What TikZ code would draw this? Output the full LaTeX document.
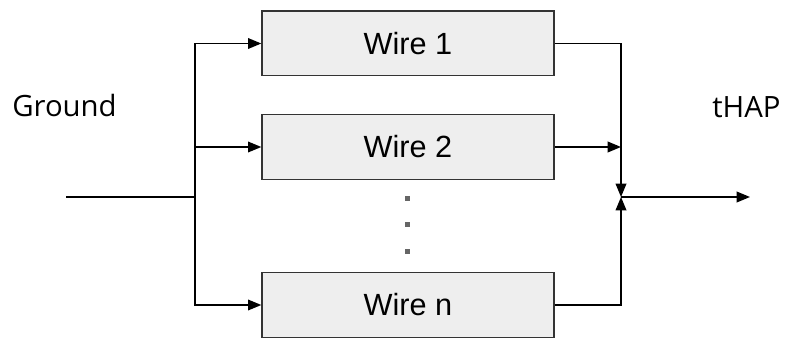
\documentclass[tikz,border=0pt]{standalone}
\usepackage{fontspec}
\setmainfont{Liberation Sans}
\newfontfamily\labelfont{Open Sans}
\usetikzlibrary{arrows.meta}

\definecolor{boxfill}{HTML}{EEEEEE}
\definecolor{boxline}{HTML}{333333}
\definecolor{dotgray}{HTML}{666666}

\tikzset{
  wirebox/.style={draw=boxline, fill=boxfill, line width=1pt, minimum width=219pt, minimum height=48.5pt, inner sep=0pt, font=\fontsize{23}{26}\selectfont},
  sidelabel/.style={anchor=base west, inner sep=0pt, font=\labelfont\fontsize{22}{26}\selectfont},
  flow/.style={line width=1.1pt, -{Triangle[length=10pt,width=8pt]}}
}

\begin{document}
\begin{tikzpicture}[x=0.75pt, y=-0.75pt] % 座標はピクセル単位、y軸は下向き
    \useasboundingbox (0,0) rectangle (787,338);

    % 各ワイヤのブロック
    \node[wirebox] (wire1) at (408,43.5) {Wire 1};
    \node[wirebox] (wire2) at (408,147) {Wire 2};
    \node[wirebox] (wiren) at (408,305) {Wire n};

    % 入出力のラベル
    \node[sidelabel] (ground) at (12,117) {Ground};
    \node[sidelabel] (thap) at (712,118) {tHAP};

    % 分岐点と合流点
    \coordinate (in) at (66,197);
    \coordinate (split) at (195,197);
    \coordinate (join) at (621,197);
    \coordinate (out) at (750,197);

    \draw[line width=1.1pt] (in) -- (split); % 入力線
    \draw[flow] (split) |- (wire1.west);
    \draw[flow] (split) |- (wire2.west);
    \draw[flow] (split) |- (wiren.west);

    \draw[flow] (wire1.east) -| (join);
    \draw[flow] (wire2.east) -- (wire2.east -| join);
    \draw[flow] (wiren.east) -| (join);
    \draw[flow] (join) -- (out); % 出力

    % 省略の点
    \foreach \y in {198,224,251}
      \fill[dotgray] (405,\y-2) rectangle ++(5,5);

  \end{tikzpicture}
\end{document}
